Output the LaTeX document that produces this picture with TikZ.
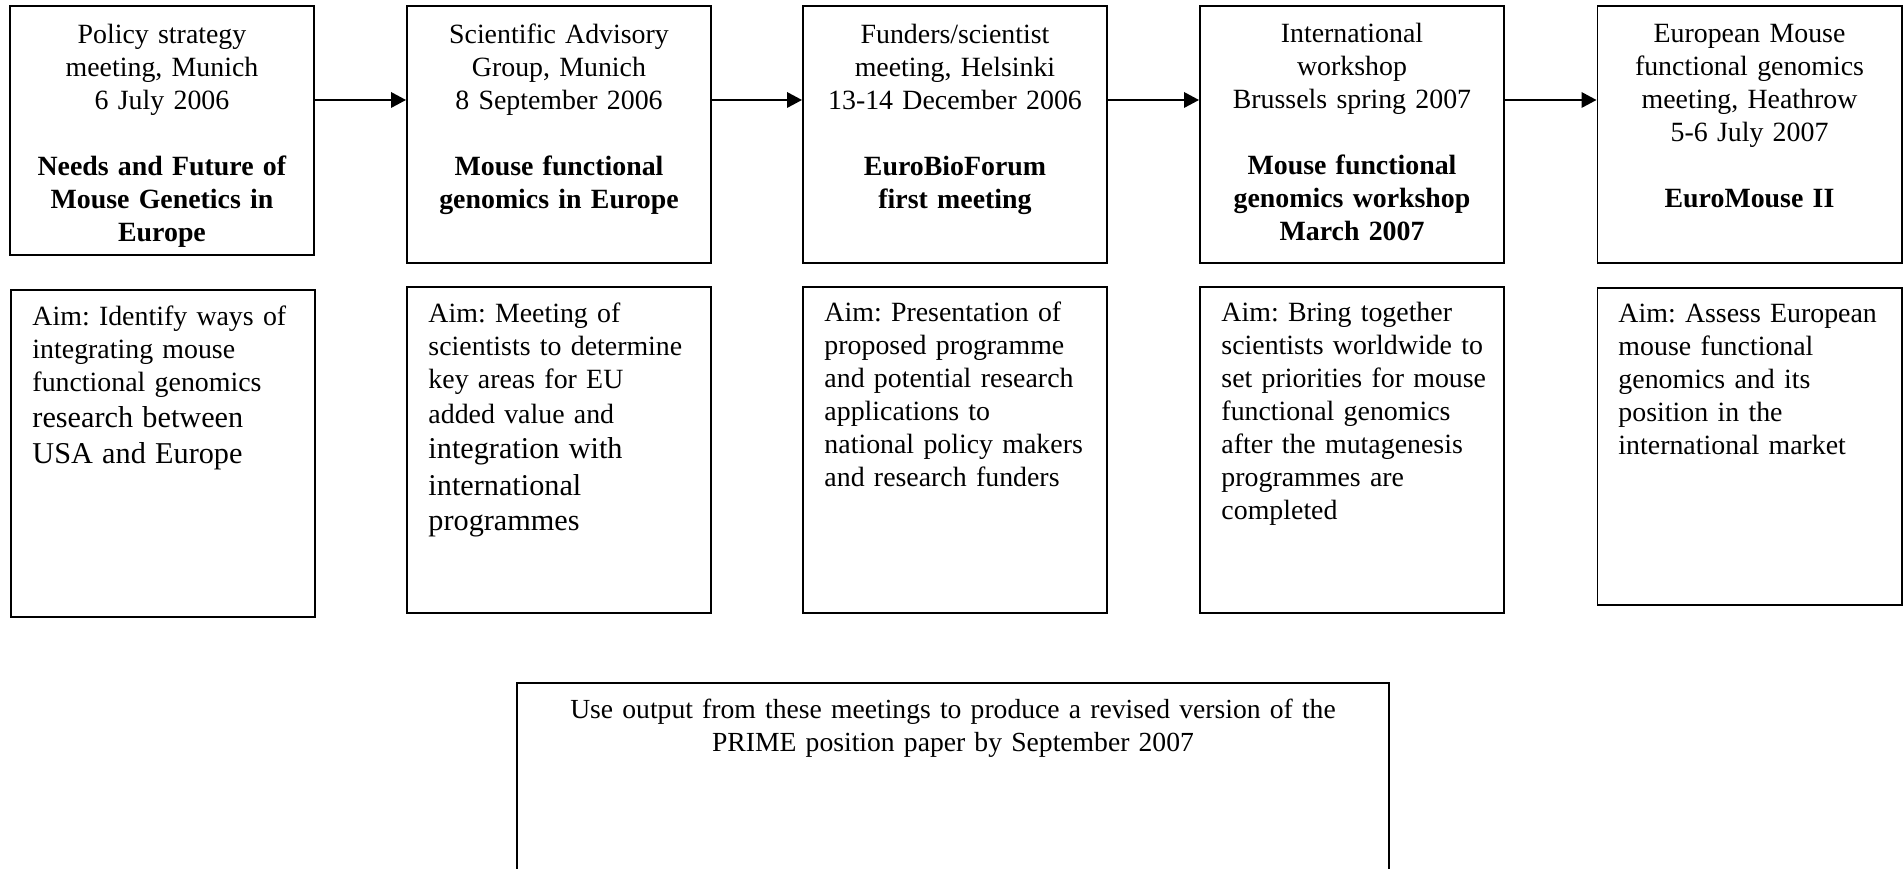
\documentclass[tikz,border=0pt]{standalone}
\usepackage{fontspec}
\setmainfont{Liberation Serif}
\usetikzlibrary{arrows.meta}
\newcommand\aimlarge[1]{{\fontsize{12.7}{15}\selectfont #1}}

\begin{document}
\frenchspacing
\begin{tikzpicture}[x=0.42pt,y=-0.42pt,
    every node/.style={font=\fontsize{11.7}{13.8}\selectfont},
    meet/.style={draw,line width=0.8pt,minimum width=127.7pt,minimum height=107.9pt,inner sep=0pt},
    aimbox/.style={draw,line width=0.8pt,minimum width=127.7pt,minimum height=136.9pt,inner sep=0pt},
    head/.style={anchor=base,text width=122pt,align=center,inner sep=0pt},
    aim/.style={anchor=base west,text width=118pt,align=left,inner sep=0pt},
    flow/.style={line width=0.8pt,-{Triangle[length=6.3pt,width=6.5pt]}}]
  \useasboundingbox (0,0) rectangle (1903,869);

  \node[meet,minimum height=104.6pt] (m1) at (162,130.5) {};
  \node[meet] (m2) at (559,134.5) {};
  \node[meet] (m3) at (955,134.5) {};
  \node[meet] (m4) at (1352,134.5) {};
  \node[meet] (m5) at (1749.5,134.5) {};

  \node[head] (h1) at (162,44) {Policy strategy\\ meeting, Munich\\ 6 July 2006\\[13.8pt]
    \textbf{Needs and Future of}\\ \textbf{Mouse Genetics in}\\ \textbf{Europe}};
  \node[head] (h2) at (559,44) {Scientific Advisory\\ Group, Munich\\ 8 September 2006\\[13.8pt]
    \textbf{Mouse functional}\\ \textbf{genomics in Europe}};
  \node[head] (h3) at (955,44) {Funders/scientist\\ meeting, Helsinki\\ 13-14 December 2006\\[13.8pt]
    \textbf{EuroBioForum}\\ \textbf{first meeting}};
  \node[head] (h4) at (1352,43) {International\\ workshop\\ Brussels spring 2007\\[13.8pt]
    \textbf{Mouse functional}\\ \textbf{genomics workshop}\\ \textbf{March 2007}};
  \node[head] (h5) at (1749.5,43) {European Mouse\\ functional genomics\\ meeting, Heathrow\\ 5-6 July 2007\\[13.8pt]
    \textbf{EuroMouse II}};

  \coordinate (row) at (0,100);
  \draw[flow] (m1.east |- row) -- (m2.west |- row);
  \draw[flow] (m2.east |- row) -- (m3.west |- row);
  \draw[flow] (m3.east |- row) -- (m4.west |- row);
  \draw[flow] (m4.east |- row) -- (m5.west |- row);

  \node[aimbox,minimum height=137.3pt] (a1) at (163,453.5) {};
  \node[aimbox] (a2) at (559,450) {};
  \node[aimbox] (a3) at (955,450) {};
  \node[aimbox] (a4) at (1352,450) {};
  \node[aimbox,minimum height=133.1pt] (a5) at (1749.5,446.5) {};

  \node[aim] (aimtxt1) at (32,326) {Aim: Identify ways of\\ integrating mouse\\ functional genomics\\[1.3pt]
    \aimlarge{research between}\\[1.3pt] \aimlarge{USA and Europe}};
  \node[aim] (aimtxt2) at (428,323) {Aim: Meeting of\\ scientists to determine\\ key areas for EU\\[0.9pt]
    added value and\\[0.9pt] \aimlarge{integration with}\\[1.8pt] \aimlarge{international}\\[0.9pt] \aimlarge{programmes}};
  \node[aim] (aimtxt3) at (824,322) {Aim: Presentation of\\ proposed programme\\ and potential research\\
    applications to\\ national policy makers\\ and research funders};
  \node[aim] (aimtxt4) at (1221,322) {Aim: Bring together\\ scientists worldwide to\\ set priorities for mouse\\
    functional genomics\\ after the mutagenesis\\ programmes are\\ completed};
  \node[aim] (aimtxt5) at (1618,323) {Aim: Assess European\\ mouse functional\\ genomics and its\\
    position in the\\ international market};

  \node[draw,line width=0.8pt,minimum width=366.2pt,minimum height=80.6pt,inner sep=0pt] (out) at (953,779) {};
  \node[anchor=base,text width=350pt,align=center,inner sep=0pt,font=\fontsize{11.6}{13.8}\selectfont] (outtxt) at (953,719)
    {Use output from these meetings to produce a revised version of the\\ PRIME position paper by September 2007};
\end{tikzpicture}
\end{document}
